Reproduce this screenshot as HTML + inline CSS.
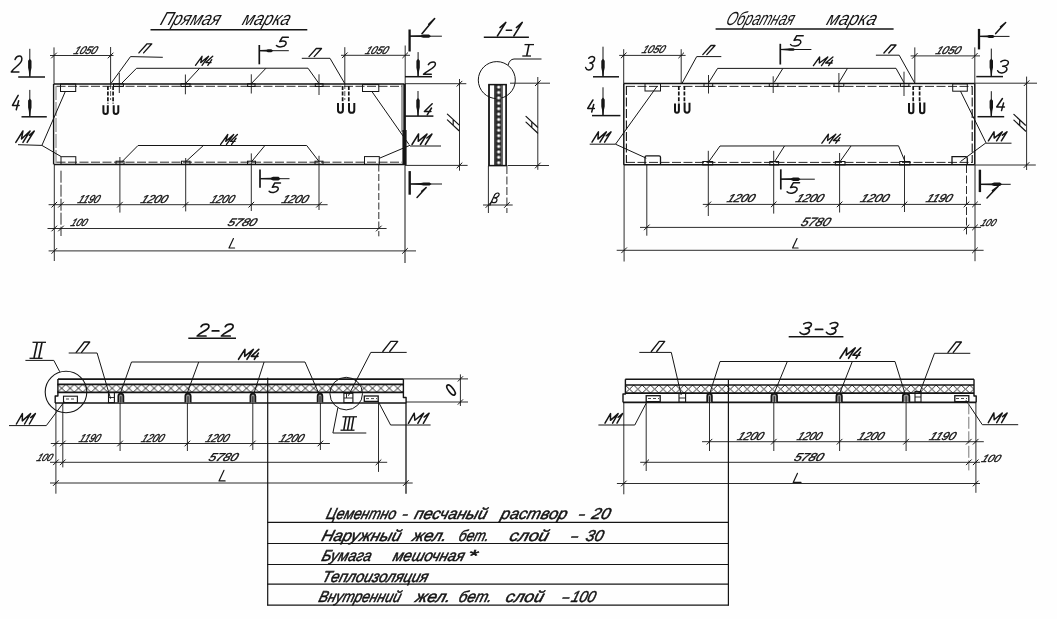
<!DOCTYPE html>
<html><head><meta charset="utf-8"><title>drawing</title>
<style>
html,body{margin:0;padding:0;background:#fefefe;}
svg{display:block;font-family:"Liberation Sans",sans-serif;font-style:italic;opacity:0.999;will-change:transform;}
</style></head><body>
<svg width="1057" height="619" viewBox="0 0 1057 619">
<defs>
<pattern id="xh" x="57.5" y="384.3" width="8.4" height="8" patternUnits="userSpaceOnUse">
<path d="M0,0 L8.4,8 M8.4,0 L0,8" stroke="#151515" stroke-width="0.9" fill="none"/>
</pattern>
<pattern id="xh2" x="625.3" y="385" width="8.4" height="8.2" patternUnits="userSpaceOnUse">
<path d="M0,0 L8.4,8.2 M8.4,0 L0,8.2" stroke="#151515" stroke-width="0.9" fill="none"/>
</pattern>
<pattern id="dots" x="495.5" y="84.4" width="6" height="5.4" patternUnits="userSpaceOnUse">
<rect x="0" y="0" width="6" height="5.4" fill="#2a2a2a"/>
<circle cx="3.2" cy="2.7" r="1.55" fill="#fff"/>
</pattern>
</defs>
<rect x="0" y="0" width="1057" height="619" fill="#fefefe"/>
<text transform="translate(159.3,24.9) skewX(-20)" font-size="19" textLength="59.37" lengthAdjust="spacingAndGlyphs" font-weight="normal" stroke="#151515" stroke-width="0" fill="#151515">Прямая</text>
<text transform="translate(241.3,24.9) skewX(-20)" font-size="19" textLength="47.37" lengthAdjust="spacingAndGlyphs" font-weight="normal" stroke="#151515" stroke-width="0" fill="#151515">марка</text>
<line x1="150.5" y1="29.8" x2="307.3" y2="29.8" stroke="#151515" stroke-width="1.5"/>
<line x1="54" y1="84" x2="404.5" y2="84" stroke="#151515" stroke-width="1.5"/>
<line x1="56.5" y1="86.3" x2="402" y2="86.3" stroke="#151515" stroke-width="0.9" stroke-dasharray="9 2.5"/>
<line x1="54" y1="164.4" x2="404.5" y2="164.4" stroke="#151515" stroke-width="1.5"/>
<line x1="56.5" y1="162.2" x2="402" y2="162.2" stroke="#151515" stroke-width="0.9" stroke-dasharray="9 2.5"/>
<line x1="53.6" y1="84" x2="53.6" y2="164.4" stroke="#151515" stroke-width="1.4"/>
<line x1="56" y1="86" x2="56" y2="163" stroke="#555" stroke-width="0.8" stroke-dasharray="14 2"/>
<line x1="402" y1="85" x2="402" y2="132" stroke="#151515" stroke-width="0.8"/>
<line x1="404.6" y1="84" x2="404.6" y2="165" stroke="#151515" stroke-width="2.6"/>
<line x1="404.5" y1="130" x2="404.5" y2="165" stroke="#151515" stroke-width="4.2"/>
<line x1="54" y1="47.4" x2="54" y2="84" stroke="#151515" stroke-width="0.9"/>
<line x1="110.6" y1="47" x2="110.6" y2="84" stroke="#151515" stroke-width="0.9"/>
<line x1="110.6" y1="84" x2="110.6" y2="100" stroke="#151515" stroke-width="0.7" stroke-dasharray="5 2"/>
<line x1="344.8" y1="47.2" x2="344.8" y2="84" stroke="#151515" stroke-width="0.9"/>
<line x1="344.8" y1="84" x2="344.8" y2="100" stroke="#151515" stroke-width="0.7" stroke-dasharray="5 2"/>
<line x1="405.2" y1="45.5" x2="405.2" y2="84" stroke="#151515" stroke-width="0.9"/>
<line x1="50" y1="55.5" x2="113.5" y2="55.5" stroke="#151515" stroke-width="0.9"/>
<line x1="51.2" y1="58.3" x2="56.8" y2="52.7" stroke="#151515" stroke-width="1.0"/>
<line x1="107.8" y1="58.3" x2="113.39999999999999" y2="52.7" stroke="#151515" stroke-width="1.0"/>
<line x1="341" y1="55.3" x2="410" y2="55.3" stroke="#151515" stroke-width="0.9"/>
<line x1="342.0" y1="58.099999999999994" x2="347.6" y2="52.5" stroke="#151515" stroke-width="1.0"/>
<line x1="402.4" y1="58.099999999999994" x2="408.0" y2="52.5" stroke="#151515" stroke-width="1.0"/>
<text transform="translate(73,54) skewX(-24)" font-size="11" textLength="22.77" lengthAdjust="spacingAndGlyphs" font-weight="normal" stroke="#151515" stroke-width="0.4" fill="#151515">1050</text>
<text transform="translate(364.5,54) skewX(-24)" font-size="11" textLength="22.27" lengthAdjust="spacingAndGlyphs" font-weight="normal" stroke="#151515" stroke-width="0.4" fill="#151515">1050</text>
<line x1="107.9" y1="86" x2="107.9" y2="103.5" stroke="#151515" stroke-width="1.7" stroke-dasharray="4 1.6"/>
<line x1="113.1" y1="86" x2="113.1" y2="103.5" stroke="#151515" stroke-width="1.7" stroke-dasharray="4 1.6"/>
<path d="M103.4,105.2 V111.80000000000001 a2.1999999999999957,2.1999999999999957 0 0 0 4.3999999999999915,0 V105.2" fill="none" stroke="#151515" stroke-width="2.0"/>
<path d="M113.7,105.2 V111.7 a2.299999999999997,2.299999999999997 0 0 0 4.599999999999994,0 V105.2" fill="none" stroke="#151515" stroke-width="2.0"/>
<line x1="342.6" y1="86" x2="342.6" y2="102" stroke="#151515" stroke-width="1.7" stroke-dasharray="4 1.6"/>
<line x1="348.8" y1="86" x2="348.8" y2="102" stroke="#151515" stroke-width="1.7" stroke-dasharray="4 1.6"/>
<path d="M338,103 V110.35000000000001 a2.4499999999999886,2.4499999999999886 0 0 0 4.899999999999977,0 V103" fill="none" stroke="#151515" stroke-width="2.0"/>
<path d="M349,103 V110.14999999999999 a2.6500000000000057,2.6500000000000057 0 0 0 5.300000000000011,0 V103" fill="none" stroke="#151515" stroke-width="2.0"/>
<rect x="60.5" y="84" width="15.2" height="7.5" fill="none" stroke="#151515" stroke-width="1.0"/>
<rect x="61" y="156.7" width="14.8" height="7.7" fill="none" stroke="#151515" stroke-width="1.0"/>
<rect x="362.5" y="84.6" width="16.3" height="6.9" fill="none" stroke="#151515" stroke-width="1.0"/>
<rect x="364.5" y="156.6" width="14.8" height="7.8" fill="none" stroke="#151515" stroke-width="1.0"/>
<g transform="translate(15.8,142.4)" fill="none" stroke="#151515" stroke-width="1.5" stroke-linecap="round" stroke-linejoin="round"><path d="M0,0 L0,1 L0.5,0.3 L1,1 L1,0" transform="matrix(7.146,0,7.124,-11.400,0.000,0)" vector-effect="non-scaling-stroke"/><path d="M0.0,0.62 L0.55,1 L0.55,0" transform="matrix(3.930,0,7.124,-11.400,9.146,0)" vector-effect="non-scaling-stroke"/></g>
<line x1="18" y1="144.7" x2="41.9" y2="145.4" stroke="#151515" stroke-width="1.0"/>
<line x1="41.9" y1="145.4" x2="61" y2="156.5" stroke="#151515" stroke-width="1.0"/>
<line x1="41.9" y1="145.4" x2="65.3" y2="91.5" stroke="#151515" stroke-width="1.0"/>
<g transform="translate(412,144.5)" fill="none" stroke="#151515" stroke-width="1.5" stroke-linecap="round" stroke-linejoin="round"><path d="M0,0 L0,1 L0.5,0.3 L1,1 L1,0" transform="matrix(8.437,0,6.561,-10.500,0.000,0)" vector-effect="non-scaling-stroke"/><path d="M0.0,0.62 L0.55,1 L0.55,0" transform="matrix(4.640,0,6.561,-10.500,10.799,0)" vector-effect="non-scaling-stroke"/></g>
<line x1="410" y1="146" x2="441" y2="146" stroke="#151515" stroke-width="1.0"/>
<line x1="410" y1="145.3" x2="379.3" y2="158.3" stroke="#151515" stroke-width="1.0"/>
<line x1="371.9" y1="91.5" x2="409" y2="144.5" stroke="#151515" stroke-width="1.0"/>
<rect x="113.5" y="83.7" width="9.9" height="2.8" fill="none" stroke="#151515" stroke-width="1.0"/>
<rect x="181" y="83.7" width="9" height="2.8" fill="none" stroke="#151515" stroke-width="1.0"/>
<rect x="247.6" y="83.7" width="7.4" height="2.8" fill="none" stroke="#151515" stroke-width="1.0"/>
<rect x="315.3" y="83.7" width="7.7" height="2.8" fill="none" stroke="#151515" stroke-width="1.0"/>
<line x1="119.3" y1="73" x2="119.3" y2="93" stroke="#151515" stroke-width="0.9"/>
<line x1="185.4" y1="74.5" x2="185.4" y2="94.3" stroke="#151515" stroke-width="0.9"/>
<line x1="251.3" y1="74.3" x2="251.3" y2="93.5" stroke="#151515" stroke-width="0.9"/>
<line x1="319" y1="74.3" x2="319" y2="95" stroke="#151515" stroke-width="0.9"/>
<polyline points="121.5,83.5 136.5,68.3 308,68.2 319,83.6" fill="none" stroke="#151515" stroke-width="1.0" stroke-linejoin="round"/>
<line x1="185.4" y1="83.6" x2="199.7" y2="68.2" stroke="#151515" stroke-width="1.0"/>
<line x1="251.3" y1="83.6" x2="266" y2="68.2" stroke="#151515" stroke-width="1.0"/>
<g transform="translate(195.5,65.3)" fill="none" stroke="#151515" stroke-width="1.35" stroke-linecap="round" stroke-linejoin="round"><path d="M0,0 L0,1 L0.5,0.3 L1,1 L1,0" transform="matrix(6.520,0,6.539,-9.000,0.000,0)" vector-effect="non-scaling-stroke"/><path d="M0.45,1 L0,0.3 L1,0.3 M0.75,0.62 L0.75,0" transform="matrix(5.216,0,6.539,-9.000,8.345,0)" vector-effect="non-scaling-stroke"/></g>
<rect x="116" y="161.2" width="8" height="3.2" fill="none" stroke="#151515" stroke-width="1.0"/>
<rect x="181.5" y="161.2" width="8.5" height="3.2" fill="none" stroke="#151515" stroke-width="1.0"/>
<rect x="247.5" y="161.2" width="8.0" height="3.2" fill="none" stroke="#151515" stroke-width="1.0"/>
<rect x="315" y="161.2" width="8" height="3.2" fill="none" stroke="#151515" stroke-width="1.0"/>
<line x1="119.9" y1="157" x2="119.9" y2="212.6" stroke="#151515" stroke-width="0.9"/>
<line x1="185.7" y1="158" x2="185.7" y2="211.4" stroke="#151515" stroke-width="0.9"/>
<line x1="251.3" y1="153.4" x2="251.3" y2="211" stroke="#151515" stroke-width="0.9"/>
<line x1="319" y1="155.8" x2="319" y2="210" stroke="#151515" stroke-width="0.9"/>
<polyline points="122,161.7 138,145.5 306.7,145.5 319,161.5" fill="none" stroke="#151515" stroke-width="1.0" stroke-linejoin="round"/>
<line x1="185.4" y1="162" x2="203.4" y2="145.5" stroke="#151515" stroke-width="1.0"/>
<line x1="251.3" y1="162" x2="264.9" y2="145.5" stroke="#151515" stroke-width="1.0"/>
<g transform="translate(220.6,144.4)" fill="none" stroke="#151515" stroke-width="1.35" stroke-linecap="round" stroke-linejoin="round"><path d="M0,0 L0,1 L0.5,0.3 L1,1 L1,0" transform="matrix(5.869,0,7.193,-9.900,0.000,0)" vector-effect="non-scaling-stroke"/><path d="M0.45,1 L0,0.3 L1,0.3 M0.75,0.62 L0.75,0" transform="matrix(4.695,0,7.193,-9.900,7.512,0)" vector-effect="non-scaling-stroke"/></g>
<g transform="translate(138.9,52.9)" fill="none" stroke="#151515" stroke-width="1.35" stroke-linecap="round" stroke-linejoin="round"><path d="M0,0 L0,1 L1,1 L1,0" transform="matrix(4.706,0,8.194,-9.100,0.000,0)" vector-effect="non-scaling-stroke"/></g>
<polyline points="111.1,83.3 130.5,56.6 162.8,57.3" fill="none" stroke="#151515" stroke-width="1.0" stroke-linejoin="round"/>
<g transform="translate(309,56.6)" fill="none" stroke="#151515" stroke-width="1.35" stroke-linecap="round" stroke-linejoin="round"><path d="M0,0 L0,1 L1,1 L1,0" transform="matrix(5.207,0,7.293,-8.100,0.000,0)" vector-effect="non-scaling-stroke"/></g>
<polyline points="301.8,58.3 330,58.3 344.8,83.6" fill="none" stroke="#151515" stroke-width="1.0" stroke-linejoin="round"/>
<line x1="259.3" y1="45" x2="259.3" y2="64.3" stroke="#151515" stroke-width="1.7"/>
<line x1="259.8" y1="50.7" x2="288.8" y2="50.7" stroke="#151515" stroke-width="1.0"/>
<polygon points="259.8,50.1 266.40000000000003,49.800000000000004 267.96000000000004,49.2 271.3,49.2 273.3,50.7 271.3,52.2 267.96000000000004,52.2 266.40000000000003,51.6 259.8,51.300000000000004" fill="#151515"/>
<g transform="translate(275.9,47)" fill="none" stroke="#151515" stroke-width="1.5" stroke-linecap="round" stroke-linejoin="round"><path d="M0.95,1 L0.3,1 L0.2,0.55 C0.5,0.68 1.0,0.6 0.95,0.28 C0.9,-0.02 0.3,-0.08 0,0.15" transform="matrix(9.369,0,3.531,-9.700,0.000,0)" vector-effect="non-scaling-stroke"/></g>
<line x1="260" y1="169.4" x2="260" y2="187.8" stroke="#151515" stroke-width="1.7"/>
<line x1="260.5" y1="178.7" x2="289.5" y2="178.7" stroke="#151515" stroke-width="1.0"/>
<polygon points="260.5,178.1 270.675,177.79999999999998 273.08,176.79999999999998 278.5,176.79999999999998 280.5,178.7 278.5,180.6 273.08,180.6 270.675,179.6 260.5,179.29999999999998" fill="#151515"/>
<g transform="translate(268.6,192.7)" fill="none" stroke="#151515" stroke-width="1.5" stroke-linecap="round" stroke-linejoin="round"><path d="M0.95,1 L0.3,1 L0.2,0.55 C0.5,0.68 1.0,0.6 0.95,0.28 C0.9,-0.02 0.3,-0.08 0,0.15" transform="matrix(8.733,0,3.567,-9.800,0.000,0)" vector-effect="non-scaling-stroke"/></g>
<line x1="54.3" y1="164.4" x2="54.3" y2="261" stroke="#151515" stroke-width="0.9"/>
<line x1="61" y1="170.7" x2="61" y2="236" stroke="#151515" stroke-width="0.9" stroke-dasharray="12 2"/>
<line x1="378.8" y1="164.5" x2="378.8" y2="236.3" stroke="#151515" stroke-width="0.9" stroke-dasharray="7 2.5"/>
<line x1="405" y1="164.4" x2="405" y2="263" stroke="#151515" stroke-width="1.0"/>
<line x1="48.6" y1="204.7" x2="327.6" y2="204.7" stroke="#151515" stroke-width="0.9"/>
<line x1="51.5" y1="207.5" x2="57.099999999999994" y2="201.89999999999998" stroke="#151515" stroke-width="1.0"/>
<line x1="58.2" y1="207.5" x2="63.8" y2="201.89999999999998" stroke="#151515" stroke-width="1.0"/>
<line x1="117.10000000000001" y1="207.5" x2="122.7" y2="201.89999999999998" stroke="#151515" stroke-width="1.0"/>
<line x1="182.89999999999998" y1="207.5" x2="188.5" y2="201.89999999999998" stroke="#151515" stroke-width="1.0"/>
<line x1="248.5" y1="207.5" x2="254.10000000000002" y2="201.89999999999998" stroke="#151515" stroke-width="1.0"/>
<line x1="316.2" y1="207.5" x2="321.8" y2="201.89999999999998" stroke="#151515" stroke-width="1.0"/>
<text transform="translate(77,202.8) skewX(-24)" font-size="11.5" textLength="21.22" lengthAdjust="spacingAndGlyphs" font-weight="normal" stroke="#151515" stroke-width="0.4" fill="#151515">1190</text>
<text transform="translate(140,202.8) skewX(-24)" font-size="11.5" textLength="26.12" lengthAdjust="spacingAndGlyphs" font-weight="normal" stroke="#151515" stroke-width="0.4" fill="#151515">1200</text>
<text transform="translate(209.5,202.8) skewX(-24)" font-size="11.5" textLength="23.22" lengthAdjust="spacingAndGlyphs" font-weight="normal" stroke="#151515" stroke-width="0.4" fill="#151515">1200</text>
<text transform="translate(280.9,202.8) skewX(-24)" font-size="11.5" textLength="25.82" lengthAdjust="spacingAndGlyphs" font-weight="normal" stroke="#151515" stroke-width="0.4" fill="#151515">1200</text>
<line x1="47.5" y1="228.5" x2="386.6" y2="228.5" stroke="#151515" stroke-width="0.9"/>
<line x1="51.5" y1="231.3" x2="57.099999999999994" y2="225.7" stroke="#151515" stroke-width="1.0"/>
<line x1="58.2" y1="231.3" x2="63.8" y2="225.7" stroke="#151515" stroke-width="1.0"/>
<line x1="376.0" y1="231.3" x2="381.6" y2="225.7" stroke="#151515" stroke-width="1.0"/>
<text transform="translate(70,225.6) skewX(-24)" font-size="10.5" textLength="15.83" lengthAdjust="spacingAndGlyphs" font-weight="normal" stroke="#151515" stroke-width="0.4" fill="#151515">100</text>
<text transform="translate(226.7,226.4) skewX(-24)" font-size="11" textLength="28.37" lengthAdjust="spacingAndGlyphs" font-weight="normal" stroke="#151515" stroke-width="0.4" fill="#151515">5780</text>
<line x1="48.6" y1="250.9" x2="416" y2="250.9" stroke="#151515" stroke-width="0.9"/>
<line x1="51.5" y1="253.70000000000002" x2="57.099999999999994" y2="248.1" stroke="#151515" stroke-width="1.0"/>
<line x1="402.2" y1="253.70000000000002" x2="407.8" y2="248.1" stroke="#151515" stroke-width="1.0"/>
<g transform="translate(229,248)" fill="none" stroke="#151515" stroke-width="1.2" stroke-linecap="round" stroke-linejoin="round"><path d="M0,1 L0,0 L1,0" transform="matrix(5.570,0,4.430,-9.500,0.000,0)" vector-effect="non-scaling-stroke"/></g>
<g transform="translate(11.3,72)" fill="none" stroke="#151515" stroke-width="1.5" stroke-linecap="round" stroke-linejoin="round"><path d="M0.05,0.78 C0.1,1.05 0.95,1.1 0.95,0.72 C0.95,0.45 0.2,0.3 0,0 L1,0" transform="matrix(7.613,0,4.287,-16.000,0.000,0)" vector-effect="non-scaling-stroke"/></g>
<line x1="29.8" y1="48.8" x2="29.8" y2="76.8" stroke="#151515" stroke-width="1.0"/>
<polygon points="29.8,58.8 28.1,60.8 28.1,67.725 28.8,71.02499999999999 29.3,76.8 30.3,76.8 30.8,71.02499999999999 31.5,67.725 31.5,60.8" fill="#151515"/>
<line x1="18.2" y1="77" x2="45" y2="77" stroke="#151515" stroke-width="1.5"/>
<g transform="translate(11.3,109.8)" fill="none" stroke="#151515" stroke-width="1.5" stroke-linecap="round" stroke-linejoin="round"><path d="M0.45,1 L0,0.3 L1,0.3 M0.75,0.62 L0.75,0" transform="matrix(6.615,0,3.885,-14.500,0.000,0)" vector-effect="non-scaling-stroke"/></g>
<line x1="29.8" y1="89.9" x2="29.8" y2="116.6" stroke="#151515" stroke-width="1.0"/>
<polygon points="29.8,98.6 28.1,100.6 28.1,107.52499999999999 28.8,110.82499999999999 29.3,116.6 30.3,116.6 30.8,110.82499999999999 31.5,107.52499999999999 31.5,100.6" fill="#151515"/>
<line x1="21.5" y1="116.8" x2="46.8" y2="116.8" stroke="#151515" stroke-width="1.5"/>
<line x1="409.6" y1="29.5" x2="409.6" y2="51.5" stroke="#151515" stroke-width="2.3"/>
<line x1="410" y1="36.2" x2="441.9" y2="36.2" stroke="#151515" stroke-width="1.0"/>
<polygon points="410,35.6 420.725,35.300000000000004 423.26,34.6 429.0,34.6 431.0,36.2 429.0,37.800000000000004 423.26,37.800000000000004 420.725,37.1 410,36.800000000000004" fill="#151515"/>
<g transform="translate(420.9,33.7)" fill="none" stroke="#151515" stroke-width="1.6" stroke-linecap="round" stroke-linejoin="round"><path d="M0.0,0.62 L0.55,1 L0.55,0" transform="matrix(1.930,0,12.670,-15.100,0.000,0)" vector-effect="non-scaling-stroke"/></g>
<g transform="translate(423.5,74.3)" fill="none" stroke="#151515" stroke-width="1.5" stroke-linecap="round" stroke-linejoin="round"><path d="M0.05,0.78 C0.1,1.05 0.95,1.1 0.95,0.72 C0.95,0.45 0.2,0.3 0,0 L1,0" transform="matrix(7.764,0,5.736,-12.300,0.000,0)" vector-effect="non-scaling-stroke"/></g>
<line x1="418.1" y1="52.1" x2="418.1" y2="76.7" stroke="#151515" stroke-width="1.0"/>
<polygon points="418.1,58.7 416.40000000000003,60.7 416.40000000000003,67.625 417.1,70.925 417.6,76.7 418.6,76.7 419.1,70.925 419.8,67.625 419.8,60.7" fill="#151515"/>
<line x1="405" y1="76.7" x2="432" y2="76.7" stroke="#151515" stroke-width="1.5"/>
<g transform="translate(422.3,114.9)" fill="none" stroke="#151515" stroke-width="1.5" stroke-linecap="round" stroke-linejoin="round"><path d="M0.45,1 L0,0.3 L1,0.3 M0.75,0.62 L0.75,0" transform="matrix(6.564,0,6.936,-11.100,0.000,0)" vector-effect="non-scaling-stroke"/></g>
<line x1="418" y1="91" x2="418" y2="116.1" stroke="#151515" stroke-width="1.0"/>
<polygon points="418,98.1 416.3,100.1 416.3,107.02499999999999 417.0,110.32499999999999 417.5,116.1 418.5,116.1 419.0,110.32499999999999 419.7,107.02499999999999 419.7,100.1" fill="#151515"/>
<line x1="405" y1="116.1" x2="433.4" y2="116.1" stroke="#151515" stroke-width="1.5"/>
<line x1="409.7" y1="171.1" x2="409.7" y2="194.7" stroke="#151515" stroke-width="2.4"/>
<line x1="410" y1="184" x2="442" y2="184" stroke="#151515" stroke-width="1.0"/>
<polygon points="410,183.4 421.0,183.1 423.6,182.4 429.5,182.4 431.5,184 429.5,185.6 423.6,185.6 421.0,184.9 410,184.6" fill="#151515"/>
<g transform="translate(416,197.4)" fill="none" stroke="#151515" stroke-width="1.5" stroke-linecap="round" stroke-linejoin="round"><path d="M0.0,0.62 L0.55,1 L0.55,0" transform="matrix(1.861,0,9.139,-9.800,0.000,0)" vector-effect="non-scaling-stroke"/></g>
<line x1="405" y1="83.7" x2="466.3" y2="83.7" stroke="#151515" stroke-width="0.9"/>
<line x1="405" y1="165.4" x2="467.6" y2="165.4" stroke="#151515" stroke-width="0.9"/>
<line x1="459.5" y1="79" x2="459.5" y2="170.7" stroke="#151515" stroke-width="0.9"/>
<line x1="456.7" y1="86.5" x2="462.3" y2="80.9" stroke="#151515" stroke-width="1.0"/>
<line x1="456.7" y1="168.20000000000002" x2="462.3" y2="162.6" stroke="#151515" stroke-width="1.0"/>
<g transform="translate(459,130.7) rotate(-90)" fill="none" stroke="#151515" stroke-width="1.2" stroke-linecap="round"><path d="M0,0 L0,1 M1,0 L1,1 M0,0.5 L1,0.5" transform="matrix(5.8,0,10.817,-11.6,0,0)" vector-effect="non-scaling-stroke"/></g>
<g transform="translate(494.7,36)" fill="none" stroke="#151515" stroke-width="1.5" stroke-linecap="round" stroke-linejoin="round"><path d="M0.0,0.62 L0.55,1 L0.55,0" transform="matrix(4.882,0,8.498,-13.600,0.000,0)" vector-effect="non-scaling-stroke"/><path d="M0,0.42 L1,0.42" transform="matrix(5.325,0,8.498,-13.600,7.988,0)" vector-effect="non-scaling-stroke"/><path d="M0.0,0.62 L0.55,1 L0.55,0" transform="matrix(4.882,0,8.498,-13.600,16.420,0)" vector-effect="non-scaling-stroke"/></g>
<line x1="483.8" y1="37.2" x2="528.9" y2="37.2" stroke="#151515" stroke-width="1.5"/>
<line x1="528.9" y1="44.9" x2="526.7" y2="55.8" stroke="#151515" stroke-width="1.6"/>
<line x1="524.5" y1="44.6" x2="534" y2="44.6" stroke="#151515" stroke-width="1.3"/>
<line x1="522.3" y1="56" x2="531" y2="56" stroke="#151515" stroke-width="1.3"/>
<path d="M508.1,65.2 Q509.5,59.3 514,59 H541.5" fill="none" stroke="#151515" stroke-width="1.0"/>
<circle cx="496.8" cy="80.1" r="18.5" fill="none" stroke="#151515" stroke-width="1"/>
<rect x="495.5" y="84.4" width="6" height="81.3" fill="url(#dots)" stroke="none"/>
<line x1="489" y1="84.4" x2="489" y2="165.7" stroke="#151515" stroke-width="1.8"/>
<line x1="495" y1="84.4" x2="495" y2="165.7" stroke="#151515" stroke-width="1.5"/>
<line x1="502.1" y1="84.4" x2="502.1" y2="165.7" stroke="#151515" stroke-width="1.1"/>
<line x1="506.1" y1="84.4" x2="506.1" y2="165.7" stroke="#151515" stroke-width="1.7"/>
<line x1="488.2" y1="84.6" x2="506.9" y2="84.6" stroke="#151515" stroke-width="1.5"/>
<line x1="488.2" y1="165.6" x2="506.9" y2="165.6" stroke="#151515" stroke-width="1.5"/>
<line x1="510" y1="83.2" x2="550" y2="83.2" stroke="#151515" stroke-width="0.9"/>
<line x1="507.5" y1="165.5" x2="549" y2="165.5" stroke="#151515" stroke-width="0.9"/>
<line x1="537.8" y1="77" x2="537.8" y2="169.8" stroke="#151515" stroke-width="0.9"/>
<line x1="535.0" y1="86.0" x2="540.5999999999999" y2="80.4" stroke="#151515" stroke-width="1.0"/>
<line x1="535.0" y1="168.3" x2="540.5999999999999" y2="162.7" stroke="#151515" stroke-width="1.0"/>
<g transform="translate(537.6,133) rotate(-90)" fill="none" stroke="#151515" stroke-width="1.2" stroke-linecap="round"><path d="M0,0 L0,1 M1,0 L1,1 M0,0.5 L1,0.5" transform="matrix(5.8,0,10.817,-11.6,0,0)" vector-effect="non-scaling-stroke"/></g>
<line x1="488.4" y1="166" x2="488.4" y2="213" stroke="#151515" stroke-width="0.9"/>
<line x1="506.9" y1="166" x2="506.9" y2="213" stroke="#151515" stroke-width="0.9" stroke-dasharray="8 2.5"/>
<line x1="483" y1="205" x2="512.7" y2="205" stroke="#151515" stroke-width="0.9"/>
<line x1="485.59999999999997" y1="207.8" x2="491.2" y2="202.2" stroke="#151515" stroke-width="1.0"/>
<line x1="504.09999999999997" y1="207.8" x2="509.7" y2="202.2" stroke="#151515" stroke-width="1.0"/>
<g transform="translate(491,202.7)" fill="none" stroke="#151515" stroke-width="1.2" stroke-linecap="round" stroke-linejoin="round"><path d="M0,-0.25 L0,0.8 C0.1,1.1 0.9,1.05 0.8,0.7 C0.75,0.5 0.3,0.5 0.2,0.5 C1.0,0.5 1.1,0.0 0.5,0 C0.3,0 0.1,0.05 0,0.2" transform="matrix(5.477,0,4.523,-9.700,0.000,0)" vector-effect="non-scaling-stroke"/></g>
<text transform="translate(725,25.2) skewX(-20)" font-size="19" textLength="67.27" lengthAdjust="spacingAndGlyphs" font-weight="normal" stroke="#151515" stroke-width="0" fill="#151515">Обратная</text>
<text transform="translate(825.5,25.2) skewX(-20)" font-size="19" textLength="49.37" lengthAdjust="spacingAndGlyphs" font-weight="normal" stroke="#151515" stroke-width="0" fill="#151515">марка</text>
<line x1="715.6" y1="28.9" x2="893.6" y2="28.9" stroke="#151515" stroke-width="1.5"/>
<line x1="623.8" y1="83.5" x2="974.8" y2="83.5" stroke="#151515" stroke-width="1.5"/>
<line x1="626" y1="86.4" x2="972" y2="86.4" stroke="#151515" stroke-width="0.9" stroke-dasharray="9 2.5"/>
<line x1="623.8" y1="164.7" x2="974.8" y2="164.7" stroke="#151515" stroke-width="1.5"/>
<line x1="626" y1="162.4" x2="972" y2="162.4" stroke="#151515" stroke-width="0.9" stroke-dasharray="9 2.5"/>
<line x1="623.8" y1="83.5" x2="623.8" y2="164.7" stroke="#151515" stroke-width="1.5"/>
<line x1="626.4" y1="86" x2="626.4" y2="163" stroke="#151515" stroke-width="1.1" stroke-dasharray="9 2.5"/>
<line x1="974.8" y1="83.5" x2="974.8" y2="164.7" stroke="#151515" stroke-width="1.5"/>
<line x1="972.2" y1="86" x2="972.2" y2="163" stroke="#151515" stroke-width="1.1" stroke-dasharray="9 2.5"/>
<line x1="623.7" y1="49.2" x2="623.7" y2="83.6" stroke="#151515" stroke-width="0.9"/>
<line x1="681.2" y1="49.2" x2="681.2" y2="83.6" stroke="#151515" stroke-width="0.9"/>
<line x1="619.2" y1="55.4" x2="685.6" y2="55.4" stroke="#151515" stroke-width="0.9"/>
<line x1="620.9000000000001" y1="58.199999999999996" x2="626.5" y2="52.6" stroke="#151515" stroke-width="1.0"/>
<line x1="678.4000000000001" y1="58.199999999999996" x2="684.0" y2="52.6" stroke="#151515" stroke-width="1.0"/>
<text transform="translate(641.3,52.9) skewX(-24)" font-size="11" textLength="22.17" lengthAdjust="spacingAndGlyphs" font-weight="normal" stroke="#151515" stroke-width="0.4" fill="#151515">1050</text>
<line x1="914.8" y1="47.4" x2="914.8" y2="83.2" stroke="#151515" stroke-width="0.9"/>
<line x1="974.8" y1="47.4" x2="974.8" y2="83.2" stroke="#151515" stroke-width="0.9"/>
<line x1="910.6" y1="55.9" x2="980" y2="55.9" stroke="#151515" stroke-width="0.9"/>
<line x1="912.0" y1="58.699999999999996" x2="917.5999999999999" y2="53.1" stroke="#151515" stroke-width="1.0"/>
<line x1="972.0" y1="58.699999999999996" x2="977.5999999999999" y2="53.1" stroke="#151515" stroke-width="1.0"/>
<text transform="translate(935,53.5) skewX(-24)" font-size="11" textLength="24.27" lengthAdjust="spacingAndGlyphs" font-weight="normal" stroke="#151515" stroke-width="0.4" fill="#151515">1050</text>
<rect x="645" y="83.6" width="15.5" height="7.4" fill="none" stroke="#151515" stroke-width="1.0"/>
<path d="M645,164.4 V157.3 Q645,155.8 646.5,155.8 H659 Q660.5,155.8 660.5,157.3 V164.4" fill="none" stroke="#151515" stroke-width="1.3"/>
<rect x="952.7" y="83.9" width="14.6" height="7.3" fill="none" stroke="#151515" stroke-width="1.0"/>
<path d="M952,165 V156.6 H965.5 Q967.3,156.6 967.3,158.4 V165" fill="none" stroke="#151515" stroke-width="1.3"/>
<line x1="678.8" y1="86" x2="678.8" y2="103" stroke="#151515" stroke-width="1.7" stroke-dasharray="4 1.6"/>
<line x1="684.4" y1="86" x2="684.4" y2="103" stroke="#151515" stroke-width="1.7" stroke-dasharray="4 1.6"/>
<path d="M675,103.4 V110.75000000000001 a1.9499999999999886,1.9499999999999886 0 0 0 3.8999999999999773,0 V103.4" fill="none" stroke="#151515" stroke-width="2.0"/>
<path d="M684.6,102.8 V110.25000000000001 a2.4499999999999886,2.4499999999999886 0 0 0 4.899999999999977,0 V102.8" fill="none" stroke="#151515" stroke-width="2.0"/>
<line x1="913.2" y1="86" x2="913.2" y2="103" stroke="#151515" stroke-width="1.7" stroke-dasharray="4 1.6"/>
<line x1="919.6" y1="86" x2="919.6" y2="103" stroke="#151515" stroke-width="1.7" stroke-dasharray="4 1.6"/>
<path d="M909,103 V111.00000000000001 a2.1999999999999886,2.1999999999999886 0 0 0 4.399999999999977,0 V103" fill="none" stroke="#151515" stroke-width="2.0"/>
<path d="M920,102.4 V111.00000000000001 a2.1999999999999886,2.1999999999999886 0 0 0 4.399999999999977,0 V102.4" fill="none" stroke="#151515" stroke-width="2.0"/>
<g transform="translate(702.8,54.6)" fill="none" stroke="#151515" stroke-width="1.35" stroke-linecap="round" stroke-linejoin="round"><path d="M0,0 L0,1 L1,1 L1,0" transform="matrix(4.006,0,8.194,-9.100,0.000,0)" vector-effect="non-scaling-stroke"/></g>
<polyline points="681.9,83.6 696.7,56.6 721.3,56.6" fill="none" stroke="#151515" stroke-width="1.0" stroke-linejoin="round"/>
<g transform="translate(883.9,53)" fill="none" stroke="#151515" stroke-width="1.35" stroke-linecap="round" stroke-linejoin="round"><path d="M0,0 L0,1 L1,1 L1,0" transform="matrix(4.897,0,7.203,-8.000,0.000,0)" vector-effect="non-scaling-stroke"/></g>
<polyline points="875.9,55.2 899.2,55.2 914.8,83.2" fill="none" stroke="#151515" stroke-width="1.0" stroke-linejoin="round"/>
<rect x="704" y="83.5" width="8.7" height="2.9" fill="none" stroke="#151515" stroke-width="1.0"/>
<rect x="769.3" y="83.5" width="8.6" height="2.9" fill="none" stroke="#151515" stroke-width="1.0"/>
<rect x="834" y="83.5" width="9.8" height="2.9" fill="none" stroke="#151515" stroke-width="1.0"/>
<rect x="900.4" y="83.5" width="8.5" height="2.9" fill="none" stroke="#151515" stroke-width="1.0"/>
<line x1="708.5" y1="75" x2="708.5" y2="93.5" stroke="#151515" stroke-width="0.9"/>
<line x1="773.2" y1="76.3" x2="773.2" y2="93" stroke="#151515" stroke-width="0.9"/>
<line x1="838.9" y1="73" x2="838.9" y2="92.4" stroke="#151515" stroke-width="0.9"/>
<line x1="904" y1="71.7" x2="904" y2="96" stroke="#151515" stroke-width="0.9"/>
<polyline points="708.5,83 717.6,68.4 896,68.3 904,82.7" fill="none" stroke="#151515" stroke-width="1.0" stroke-linejoin="round"/>
<line x1="774.2" y1="82.4" x2="782.8" y2="68.5" stroke="#151515" stroke-width="1.0"/>
<line x1="847.4" y1="68.5" x2="838.9" y2="82.7" stroke="#151515" stroke-width="1.0"/>
<g transform="translate(813.4,65.6)" fill="none" stroke="#151515" stroke-width="1.35" stroke-linecap="round" stroke-linejoin="round"><path d="M0,0 L0,1 L0.5,0.3 L1,1 L1,0" transform="matrix(8.102,0,6.248,-8.600,0.000,0)" vector-effect="non-scaling-stroke"/><path d="M0.45,1 L0,0.3 L1,0.3 M0.75,0.62 L0.75,0" transform="matrix(6.481,0,6.248,-8.600,10.370,0)" vector-effect="non-scaling-stroke"/></g>
<line x1="780.3" y1="43.8" x2="780.3" y2="64.5" stroke="#151515" stroke-width="1.7"/>
<line x1="780" y1="49.5" x2="811.4" y2="49.5" stroke="#151515" stroke-width="1.0"/>
<polygon points="780,48.9 787.7,48.6 789.52,48.3 793.5,48.3 795.5,49.5 793.5,50.7 789.52,50.7 787.7,50.4 780,50.1" fill="#151515"/>
<g transform="translate(790,46.2)" fill="none" stroke="#151515" stroke-width="1.5" stroke-linecap="round" stroke-linejoin="round"><path d="M0.95,1 L0.3,1 L0.2,0.55 C0.5,0.68 1.0,0.6 0.95,0.28 C0.9,-0.02 0.3,-0.08 0,0.15" transform="matrix(9.878,0,3.822,-10.500,0.000,0)" vector-effect="non-scaling-stroke"/></g>
<rect x="702.8" y="161.5" width="9.9" height="3.4" fill="none" stroke="#151515" stroke-width="1.0"/>
<rect x="769.8" y="161.5" width="8.8" height="3.4" fill="none" stroke="#151515" stroke-width="1.0"/>
<rect x="835.3" y="161.5" width="9.7" height="3.4" fill="none" stroke="#151515" stroke-width="1.0"/>
<rect x="899.7" y="161.5" width="10.2" height="3.4" fill="none" stroke="#151515" stroke-width="1.0"/>
<line x1="708.3" y1="150.8" x2="708.3" y2="216" stroke="#151515" stroke-width="0.9"/>
<line x1="773.7" y1="150.8" x2="773.7" y2="213.6" stroke="#151515" stroke-width="0.9"/>
<line x1="839.6" y1="153" x2="839.6" y2="212.5" stroke="#151515" stroke-width="0.9"/>
<line x1="904.5" y1="155.4" x2="904.5" y2="212" stroke="#151515" stroke-width="0.9"/>
<polyline points="709,161.4 720,146 898.5,145.8 905,161.5" fill="none" stroke="#151515" stroke-width="1.0" stroke-linejoin="round"/>
<line x1="774.7" y1="161.4" x2="784.5" y2="146" stroke="#151515" stroke-width="1.0"/>
<line x1="851" y1="146" x2="840.1" y2="161.5" stroke="#151515" stroke-width="1.0"/>
<g transform="translate(821.9,143.2)" fill="none" stroke="#151515" stroke-width="1.35" stroke-linecap="round" stroke-linejoin="round"><path d="M0,0 L0,1 L0.5,0.3 L1,1 L1,0" transform="matrix(7.385,0,6.539,-9.000,0.000,0)" vector-effect="non-scaling-stroke"/><path d="M0.45,1 L0,0.3 L1,0.3 M0.75,0.62 L0.75,0" transform="matrix(5.908,0,6.539,-9.000,9.453,0)" vector-effect="non-scaling-stroke"/></g>
<line x1="780.8" y1="169.3" x2="780.8" y2="189.5" stroke="#151515" stroke-width="1.7"/>
<line x1="781" y1="179.2" x2="814.8" y2="179.2" stroke="#151515" stroke-width="1.0"/>
<polygon points="781,178.6 790.9,178.29999999999998 793.24,177.39999999999998 798.5,177.39999999999998 800.5,179.2 798.5,181.0 793.24,181.0 790.9,180.1 781,179.79999999999998" fill="#151515"/>
<g transform="translate(786.5,193.4)" fill="none" stroke="#151515" stroke-width="1.5" stroke-linecap="round" stroke-linejoin="round"><path d="M0.95,1 L0.3,1 L0.2,0.55 C0.5,0.68 1.0,0.6 0.95,0.28 C0.9,-0.02 0.3,-0.08 0,0.15" transform="matrix(9.642,0,3.858,-10.600,0.000,0)" vector-effect="non-scaling-stroke"/></g>
<g transform="translate(592,142.2)" fill="none" stroke="#151515" stroke-width="1.5" stroke-linecap="round" stroke-linejoin="round"><path d="M0,0 L0,1 L0.5,0.3 L1,1 L1,0" transform="matrix(7.958,0,6.436,-10.300,0.000,0)" vector-effect="non-scaling-stroke"/><path d="M0.0,0.62 L0.55,1 L0.55,0" transform="matrix(4.377,0,6.436,-10.300,10.187,0)" vector-effect="non-scaling-stroke"/></g>
<line x1="589.7" y1="144.2" x2="615.5" y2="144.2" stroke="#151515" stroke-width="1.0"/>
<line x1="615.5" y1="144.2" x2="646.3" y2="158.2" stroke="#151515" stroke-width="1.0"/>
<line x1="615.5" y1="144.2" x2="657.3" y2="86" stroke="#151515" stroke-width="1.0"/>
<g transform="translate(988.4,140.8)" fill="none" stroke="#151515" stroke-width="1.5" stroke-linecap="round" stroke-linejoin="round"><path d="M0,0 L0,1 L0.5,0.3 L1,1 L1,0" transform="matrix(8.184,0,5.624,-9.000,0.000,0)" vector-effect="non-scaling-stroke"/><path d="M0.0,0.62 L0.55,1 L0.55,0" transform="matrix(4.501,0,5.624,-9.000,10.475,0)" vector-effect="non-scaling-stroke"/></g>
<line x1="986" y1="143.2" x2="1011.5" y2="143.2" stroke="#151515" stroke-width="1.0"/>
<line x1="986" y1="142.8" x2="960.5" y2="161.5" stroke="#151515" stroke-width="1.0"/>
<line x1="986" y1="142.8" x2="960.5" y2="91.2" stroke="#151515" stroke-width="1.0"/>
<line x1="624.1" y1="164" x2="624.1" y2="261.5" stroke="#151515" stroke-width="0.9"/>
<line x1="646.8" y1="164" x2="646.8" y2="235.7" stroke="#151515" stroke-width="0.9"/>
<line x1="966.5" y1="165" x2="966.5" y2="234.4" stroke="#151515" stroke-width="0.9" stroke-dasharray="8 2.5"/>
<line x1="975" y1="165" x2="975" y2="261.2" stroke="#151515" stroke-width="0.9"/>
<line x1="702.8" y1="204.4" x2="981" y2="204.4" stroke="#151515" stroke-width="0.9"/>
<line x1="705.5" y1="207.20000000000002" x2="711.0999999999999" y2="201.6" stroke="#151515" stroke-width="1.0"/>
<line x1="770.9000000000001" y1="207.20000000000002" x2="776.5" y2="201.6" stroke="#151515" stroke-width="1.0"/>
<line x1="836.8000000000001" y1="207.20000000000002" x2="842.4" y2="201.6" stroke="#151515" stroke-width="1.0"/>
<line x1="901.7" y1="207.20000000000002" x2="907.3" y2="201.6" stroke="#151515" stroke-width="1.0"/>
<line x1="963.7" y1="207.20000000000002" x2="969.3" y2="201.6" stroke="#151515" stroke-width="1.0"/>
<line x1="972.2" y1="207.20000000000002" x2="977.8" y2="201.6" stroke="#151515" stroke-width="1.0"/>
<text transform="translate(726.2,201.5) skewX(-24)" font-size="11.5" textLength="27.02" lengthAdjust="spacingAndGlyphs" font-weight="normal" stroke="#151515" stroke-width="0.4" fill="#151515">1200</text>
<text transform="translate(795,201.5) skewX(-24)" font-size="11.5" textLength="27.12" lengthAdjust="spacingAndGlyphs" font-weight="normal" stroke="#151515" stroke-width="0.4" fill="#151515">1200</text>
<text transform="translate(859.6,201.6) skewX(-24)" font-size="11.5" textLength="27.82" lengthAdjust="spacingAndGlyphs" font-weight="normal" stroke="#151515" stroke-width="0.4" fill="#151515">1200</text>
<text transform="translate(925.2,202) skewX(-24)" font-size="11.5" textLength="25.52" lengthAdjust="spacingAndGlyphs" font-weight="normal" stroke="#151515" stroke-width="0.4" fill="#151515">1190</text>
<line x1="640" y1="227.4" x2="981" y2="227.4" stroke="#151515" stroke-width="0.9"/>
<line x1="644.0" y1="230.20000000000002" x2="649.5999999999999" y2="224.6" stroke="#151515" stroke-width="1.0"/>
<line x1="963.7" y1="230.20000000000002" x2="969.3" y2="224.6" stroke="#151515" stroke-width="1.0"/>
<line x1="972.2" y1="230.20000000000002" x2="977.8" y2="224.6" stroke="#151515" stroke-width="1.0"/>
<text transform="translate(800,226.2) skewX(-24)" font-size="12" textLength="28.66" lengthAdjust="spacingAndGlyphs" font-weight="normal" stroke="#151515" stroke-width="0.4" fill="#151515">5780</text>
<text transform="translate(980,225.9) skewX(-24)" font-size="10" textLength="14.58" lengthAdjust="spacingAndGlyphs" font-weight="normal" stroke="#151515" stroke-width="0.4" fill="#151515">100</text>
<line x1="616.7" y1="250.3" x2="983.6" y2="250.3" stroke="#151515" stroke-width="0.9"/>
<line x1="621.3000000000001" y1="253.10000000000002" x2="626.9" y2="247.5" stroke="#151515" stroke-width="1.0"/>
<line x1="972.2" y1="253.10000000000002" x2="977.8" y2="247.5" stroke="#151515" stroke-width="1.0"/>
<g transform="translate(792.6,248)" fill="none" stroke="#151515" stroke-width="1.2" stroke-linecap="round" stroke-linejoin="round"><path d="M0,1 L0,0 L1,0" transform="matrix(5.470,0,4.430,-9.500,0.000,0)" vector-effect="non-scaling-stroke"/></g>
<g transform="translate(585,70)" fill="none" stroke="#151515" stroke-width="1.5" stroke-linecap="round" stroke-linejoin="round"><path d="M0.08,0.88 C0.3,1.06 0.95,1.05 0.9,0.74 C0.87,0.55 0.5,0.53 0.4,0.53 C0.9,0.52 1.0,0.3 0.9,0.15 C0.75,-0.06 0.2,-0.03 0,0.18" transform="matrix(7.409,0,3.591,-13.400,0.000,0)" vector-effect="non-scaling-stroke"/></g>
<line x1="603" y1="46.7" x2="603" y2="76.8" stroke="#151515" stroke-width="1.0"/>
<polygon points="603,58.8 601.3,60.8 601.3,67.725 602.0,71.02499999999999 602.5,76.8 603.5,76.8 604.0,71.02499999999999 604.7,67.725 604.7,60.8" fill="#151515"/>
<line x1="593" y1="76.8" x2="619" y2="76.8" stroke="#151515" stroke-width="1.5"/>
<g transform="translate(586.7,112)" fill="none" stroke="#151515" stroke-width="1.5" stroke-linecap="round" stroke-linejoin="round"><path d="M0.45,1 L0,0.3 L1,0.3 M0.75,0.62 L0.75,0" transform="matrix(6.685,0,3.215,-12.000,0.000,0)" vector-effect="non-scaling-stroke"/></g>
<line x1="603" y1="87.3" x2="603" y2="115.6" stroke="#151515" stroke-width="1.0"/>
<polygon points="603,97.6 601.3,99.6 601.3,106.52499999999999 602.0,109.82499999999999 602.5,115.6 603.5,115.6 604.0,109.82499999999999 604.7,106.52499999999999 604.7,99.6" fill="#151515"/>
<line x1="592" y1="115.6" x2="620.4" y2="115.6" stroke="#151515" stroke-width="1.5"/>
<line x1="979" y1="28.9" x2="979" y2="49.4" stroke="#151515" stroke-width="2.3"/>
<line x1="979.5" y1="36.4" x2="1009.5" y2="36.4" stroke="#151515" stroke-width="1.0"/>
<polygon points="979.5,35.8 987.2,35.5 989.02,34.9 993.0,34.9 995.0,36.4 993.0,37.9 989.02,37.9 987.2,37.3 979.5,37.0" fill="#151515"/>
<g transform="translate(994.3,33.6)" fill="none" stroke="#151515" stroke-width="1.5" stroke-linecap="round" stroke-linejoin="round"><path d="M0.0,0.62 L0.55,1 L0.55,0" transform="matrix(2.506,0,9.994,-11.100,0.000,0)" vector-effect="non-scaling-stroke"/></g>
<line x1="991.3" y1="48.6" x2="991.3" y2="76.6" stroke="#151515" stroke-width="1.0"/>
<polygon points="991.3,58.599999999999994 989.5999999999999,60.599999999999994 989.5999999999999,67.52499999999999 990.3,70.82499999999999 990.8,76.6 991.8,76.6 992.3,70.82499999999999 993.0,67.52499999999999 993.0,60.599999999999994" fill="#151515"/>
<line x1="976.3" y1="76.6" x2="1003" y2="76.6" stroke="#151515" stroke-width="1.5"/>
<g transform="translate(997,73)" fill="none" stroke="#151515" stroke-width="1.5" stroke-linecap="round" stroke-linejoin="round"><path d="M0.08,0.88 C0.3,1.06 0.95,1.05 0.9,0.74 C0.87,0.55 0.5,0.53 0.4,0.53 C0.9,0.52 1.0,0.3 0.9,0.15 C0.75,-0.06 0.2,-0.03 0,0.18" transform="matrix(9.597,0,3.403,-12.700,0.000,0)" vector-effect="non-scaling-stroke"/></g>
<line x1="991.3" y1="91.2" x2="991.3" y2="116.7" stroke="#151515" stroke-width="1.0"/>
<polygon points="991.3,98.7 989.5999999999999,100.7 989.5999999999999,107.625 990.3,110.925 990.8,116.7 991.8,116.7 992.3,110.925 993.0,107.625 993.0,100.7" fill="#151515"/>
<line x1="977.5" y1="116.7" x2="1004.2" y2="116.7" stroke="#151515" stroke-width="1.5"/>
<g transform="translate(995.7,110.6)" fill="none" stroke="#151515" stroke-width="1.5" stroke-linecap="round" stroke-linejoin="round"><path d="M0.45,1 L0,0.3 L1,0.3 M0.75,0.62 L0.75,0" transform="matrix(7.758,0,3.242,-12.100,0.000,0)" vector-effect="non-scaling-stroke"/></g>
<line x1="979.9" y1="169.7" x2="979.9" y2="192.1" stroke="#151515" stroke-width="2.4"/>
<line x1="980.5" y1="184.3" x2="1010.7" y2="184.3" stroke="#151515" stroke-width="1.0"/>
<polygon points="980.5,183.70000000000002 991.5,183.4 994.1,182.60000000000002 1000.0,182.60000000000002 1002.0,184.3 1000.0,186.0 994.1,186.0 991.5,185.20000000000002 980.5,184.9" fill="#151515"/>
<g transform="translate(985.5,197.9)" fill="none" stroke="#151515" stroke-width="1.5" stroke-linecap="round" stroke-linejoin="round"><path d="M0.0,0.62 L0.55,1 L0.55,0" transform="matrix(2.698,0,11.202,-11.600,0.000,0)" vector-effect="non-scaling-stroke"/></g>
<line x1="975" y1="83.2" x2="1037" y2="83.2" stroke="#151515" stroke-width="0.9"/>
<line x1="975" y1="165" x2="1035.8" y2="165" stroke="#151515" stroke-width="0.9"/>
<line x1="1026.6" y1="76.6" x2="1026.6" y2="170" stroke="#151515" stroke-width="0.9"/>
<line x1="1023.8" y1="86.0" x2="1029.3999999999999" y2="80.4" stroke="#151515" stroke-width="1.0"/>
<line x1="1023.8" y1="167.8" x2="1029.3999999999999" y2="162.2" stroke="#151515" stroke-width="1.0"/>
<g transform="translate(1025.5,131) rotate(-90)" fill="none" stroke="#151515" stroke-width="1.2" stroke-linecap="round"><path d="M0,0 L0,1 M1,0 L1,1 M0,0.5 L1,0.5" transform="matrix(5.8,0,10.817,-11.6,0,0)" vector-effect="non-scaling-stroke"/></g>
<g transform="translate(197.2,336)" fill="none" stroke="#151515" stroke-width="1.7" stroke-linecap="round" stroke-linejoin="round"><path d="M0.05,0.78 C0.1,1.05 0.95,1.1 0.95,0.72 C0.95,0.45 0.2,0.3 0,0 L1,0" transform="matrix(8.809,0,4.368,-12.000,0.000,0)" vector-effect="non-scaling-stroke"/><path d="M0,0.42 L1,0.42" transform="matrix(6.606,0,4.368,-12.000,13.213,0)" vector-effect="non-scaling-stroke"/><path d="M0.05,0.78 C0.1,1.05 0.95,1.1 0.95,0.72 C0.95,0.45 0.2,0.3 0,0 L1,0" transform="matrix(8.809,0,4.368,-12.000,24.224,0)" vector-effect="non-scaling-stroke"/></g>
<line x1="188.3" y1="338.3" x2="236" y2="338.3" stroke="#151515" stroke-width="1.5"/>
<rect x="57.5" y="384.3" width="346" height="8" fill="url(#xh)" stroke="none"/>
<line x1="58" y1="379.1" x2="403.5" y2="379.1" stroke="#151515" stroke-width="1.6"/>
<line x1="57.4" y1="384.3" x2="403.5" y2="384.3" stroke="#151515" stroke-width="1.7"/>
<line x1="57.4" y1="392.3" x2="403.5" y2="392.3" stroke="#151515" stroke-width="1.7"/>
<line x1="55" y1="403" x2="406.2" y2="403" stroke="#151515" stroke-width="1.7"/>
<polyline points="57.9,379 57.9,396 55.2,396 55.2,403" fill="none" stroke="#151515" stroke-width="1.4" stroke-linejoin="round"/>
<polyline points="403.4,379 403.4,397.5 406.1,397.5 406.1,403" fill="none" stroke="#151515" stroke-width="1.4" stroke-linejoin="round"/>
<circle cx="66" cy="392" r="20.8" fill="none" stroke="#151515" stroke-width="1.1"/>
<line x1="37.2" y1="342.5" x2="34" y2="358" stroke="#151515" stroke-width="1.6"/>
<line x1="42" y1="342.5" x2="38.8" y2="358" stroke="#151515" stroke-width="1.6"/>
<line x1="32.5" y1="342.3" x2="46" y2="342.3" stroke="#151515" stroke-width="1.3"/>
<line x1="29.5" y1="358.3" x2="42.5" y2="358.3" stroke="#151515" stroke-width="1.3"/>
<polyline points="25.4,360.4 53.8,360.4 59.8,371.8" fill="none" stroke="#151515" stroke-width="1.0" stroke-linejoin="round"/>
<g transform="translate(76.2,352.4)" fill="none" stroke="#151515" stroke-width="1.35" stroke-linecap="round" stroke-linejoin="round"><path d="M0,0 L0,1 L1,1 L1,0" transform="matrix(5.375,0,8.125,-10.400,0.000,0)" vector-effect="non-scaling-stroke"/></g>
<polyline points="68.7,353 97.1,353 110.6,398.7" fill="none" stroke="#151515" stroke-width="1.0" stroke-linejoin="round"/>
<polyline points="119.5,395.7 131.5,362 305,362 319.1,394.2" fill="none" stroke="#151515" stroke-width="1.0" stroke-linejoin="round"/>
<line x1="198.7" y1="362" x2="186.8" y2="394.2" stroke="#151515" stroke-width="1.0"/>
<line x1="264.1" y1="362" x2="253.4" y2="395" stroke="#151515" stroke-width="1.0"/>
<g transform="translate(238.5,359.3)" fill="none" stroke="#151515" stroke-width="1.6" stroke-linecap="round" stroke-linejoin="round"><path d="M0,0 L0,1 L0.5,0.3 L1,1 L1,0" transform="matrix(8.448,0,6.429,-9.900,0.000,0)" vector-effect="non-scaling-stroke"/><path d="M0.45,1 L0,0.3 L1,0.3 M0.75,0.62 L0.75,0" transform="matrix(6.758,0,6.429,-9.900,10.813,0)" vector-effect="non-scaling-stroke"/></g>
<path d="M118.3,402.6 V396.2 Q118.3,393.7 120.85,393.7 Q123.4,393.7 123.4,396.2 V402.6" fill="#999" stroke="#151515" stroke-width="1.7"/>
<line x1="120.85" y1="396.2" x2="120.85" y2="402.6" stroke="#151515" stroke-width="1.0"/>
<path d="M185.29999999999998,402.6 V396.2 Q185.29999999999998,393.7 188.0,393.7 Q190.70000000000002,393.7 190.70000000000002,396.2 V402.6" fill="#999" stroke="#151515" stroke-width="1.7"/>
<line x1="188.0" y1="396.2" x2="188.0" y2="402.6" stroke="#151515" stroke-width="1.0"/>
<path d="M250.4,402.6 V396.2 Q250.4,393.7 252.9,393.7 Q255.4,393.7 255.4,396.2 V402.6" fill="#999" stroke="#151515" stroke-width="1.7"/>
<line x1="252.9" y1="396.2" x2="252.9" y2="402.6" stroke="#151515" stroke-width="1.0"/>
<path d="M317.6,402.6 V396.2 Q317.6,393.7 320.0,393.7 Q322.4,393.7 322.4,396.2 V402.6" fill="#999" stroke="#151515" stroke-width="1.7"/>
<line x1="320.0" y1="396.2" x2="320.0" y2="402.6" stroke="#151515" stroke-width="1.0"/>
<rect x="108.5" y="392.4" width="5.9" height="10.2" fill="none" stroke="#151515" stroke-width="1.1"/>
<line x1="108.5" y1="397.5" x2="114.4" y2="397.5" stroke="#151515" stroke-width="0.9"/>
<rect x="343.9" y="393.3" width="9.0" height="9.3" fill="none" stroke="#151515" stroke-width="1.1"/>
<line x1="346.5" y1="393.3" x2="346.5" y2="398" stroke="#151515" stroke-width="0.9"/>
<line x1="343.9" y1="398" x2="352.9" y2="398" stroke="#151515" stroke-width="0.9"/>
<rect x="63.5" y="396.2" width="13.9" height="6.4" fill="none" stroke="#151515" stroke-width="1.1"/>
<line x1="66" y1="399" x2="75" y2="399" stroke="#151515" stroke-width="0.8" stroke-dasharray="3 2"/>
<rect x="364.3" y="396" width="13.9" height="5.4" fill="none" stroke="#151515" stroke-width="1.3"/>
<line x1="366" y1="398.6" x2="377" y2="398.6" stroke="#151515" stroke-width="0.8" stroke-dasharray="3 2"/>
<g transform="translate(16.4,424)" fill="none" stroke="#151515" stroke-width="1.5" stroke-linecap="round" stroke-linejoin="round"><path d="M0,0 L0,1 L0.5,0.3 L1,1 L1,0" transform="matrix(8.194,0,6.004,-10.400,0.000,0)" vector-effect="non-scaling-stroke"/><path d="M0.0,0.62 L0.55,1 L0.55,0" transform="matrix(4.507,0,6.004,-10.400,10.489,0)" vector-effect="non-scaling-stroke"/></g>
<polyline points="9,425.6 46.3,425.6 64.3,401.7" fill="none" stroke="#151515" stroke-width="1.0" stroke-linejoin="round"/>
<g transform="translate(408.4,423.3)" fill="none" stroke="#151515" stroke-width="1.5" stroke-linecap="round" stroke-linejoin="round"><path d="M0,0 L0,1 L0.5,0.3 L1,1 L1,0" transform="matrix(9.436,0,5.831,-10.100,0.000,0)" vector-effect="non-scaling-stroke"/><path d="M0.0,0.62 L0.55,1 L0.55,0" transform="matrix(5.190,0,5.831,-10.100,12.079,0)" vector-effect="non-scaling-stroke"/></g>
<polyline points="430.6,425 390.6,425 378.2,401.4" fill="none" stroke="#151515" stroke-width="1.0" stroke-linejoin="round"/>
<circle cx="346.2" cy="393.6" r="16.3" fill="none" stroke="#151515" stroke-width="1.0"/>
<line x1="346" y1="417" x2="343.8" y2="430" stroke="#151515" stroke-width="1.5"/>
<line x1="349.8" y1="417" x2="347.6" y2="430" stroke="#151515" stroke-width="1.5"/>
<line x1="353.6" y1="417" x2="351.40000000000003" y2="430" stroke="#151515" stroke-width="1.5"/>
<line x1="342.5" y1="416.8" x2="357" y2="416.8" stroke="#151515" stroke-width="1.3"/>
<line x1="340.5" y1="430.2" x2="354.5" y2="430.2" stroke="#151515" stroke-width="1.3"/>
<polyline points="366.3,433 332.9,433 337.9,407.6" fill="none" stroke="#151515" stroke-width="1.0" stroke-linejoin="round"/>
<g transform="translate(382.8,351.5)" fill="none" stroke="#151515" stroke-width="1.35" stroke-linecap="round" stroke-linejoin="round"><path d="M0,0 L0,1 L1,1 L1,0" transform="matrix(6.931,0,7.969,-10.200,0.000,0)" vector-effect="non-scaling-stroke"/></g>
<polyline points="406.7,352.4 370.8,352.4 348.4,395.7" fill="none" stroke="#151515" stroke-width="1.0" stroke-linejoin="round"/>
<line x1="403.4" y1="378.9" x2="468" y2="378.9" stroke="#151515" stroke-width="0.9"/>
<line x1="406" y1="402" x2="468" y2="402" stroke="#151515" stroke-width="0.9"/>
<line x1="460.4" y1="374.4" x2="460.4" y2="406" stroke="#151515" stroke-width="0.9"/>
<line x1="457.79999999999995" y1="381.5" x2="463.0" y2="376.29999999999995" stroke="#151515" stroke-width="1.0"/>
<line x1="457.79999999999995" y1="404.6" x2="463.0" y2="399.4" stroke="#151515" stroke-width="1.0"/>
<ellipse cx="451" cy="390" rx="2.4" ry="6" transform="rotate(-38 451 390)" fill="none" stroke="#151515" stroke-width="1.7"/>
<line x1="55.9" y1="403" x2="55.9" y2="493.7" stroke="#151515" stroke-width="0.9"/>
<line x1="62.8" y1="403" x2="62.8" y2="467.4" stroke="#151515" stroke-width="0.9"/>
<line x1="120.1" y1="403" x2="120.1" y2="451" stroke="#151515" stroke-width="0.9"/>
<line x1="187.4" y1="403" x2="187.4" y2="451" stroke="#151515" stroke-width="0.9"/>
<line x1="252.8" y1="403" x2="252.8" y2="450" stroke="#151515" stroke-width="0.9"/>
<line x1="320.4" y1="403" x2="320.4" y2="450" stroke="#151515" stroke-width="0.9"/>
<line x1="378.5" y1="403" x2="378.5" y2="471.9" stroke="#151515" stroke-width="0.9"/>
<line x1="406" y1="403" x2="406" y2="493.7" stroke="#151515" stroke-width="1.3"/>
<line x1="50.8" y1="443.5" x2="329.9" y2="443.5" stroke="#151515" stroke-width="0.9"/>
<line x1="53.1" y1="446.3" x2="58.699999999999996" y2="440.7" stroke="#151515" stroke-width="1.0"/>
<line x1="60.0" y1="446.3" x2="65.6" y2="440.7" stroke="#151515" stroke-width="1.0"/>
<line x1="117.3" y1="446.3" x2="122.89999999999999" y2="440.7" stroke="#151515" stroke-width="1.0"/>
<line x1="184.6" y1="446.3" x2="190.20000000000002" y2="440.7" stroke="#151515" stroke-width="1.0"/>
<line x1="250.0" y1="446.3" x2="255.60000000000002" y2="440.7" stroke="#151515" stroke-width="1.0"/>
<line x1="317.59999999999997" y1="446.3" x2="323.2" y2="440.7" stroke="#151515" stroke-width="1.0"/>
<text transform="translate(78.3,442) skewX(-24)" font-size="11.5" textLength="20.42" lengthAdjust="spacingAndGlyphs" font-weight="normal" stroke="#151515" stroke-width="0.4" fill="#151515">1190</text>
<text transform="translate(140.5,442) skewX(-24)" font-size="11.5" textLength="22.02" lengthAdjust="spacingAndGlyphs" font-weight="normal" stroke="#151515" stroke-width="0.4" fill="#151515">1200</text>
<text transform="translate(204.7,442) skewX(-24)" font-size="11.5" textLength="22.82" lengthAdjust="spacingAndGlyphs" font-weight="normal" stroke="#151515" stroke-width="0.4" fill="#151515">1200</text>
<text transform="translate(278.2,441.5) skewX(-24)" font-size="11.5" textLength="24.12" lengthAdjust="spacingAndGlyphs" font-weight="normal" stroke="#151515" stroke-width="0.4" fill="#151515">1200</text>
<line x1="50" y1="462.3" x2="387.2" y2="462.3" stroke="#151515" stroke-width="0.9"/>
<line x1="53.1" y1="465.1" x2="58.699999999999996" y2="459.5" stroke="#151515" stroke-width="1.0"/>
<line x1="60.0" y1="465.1" x2="65.6" y2="459.5" stroke="#151515" stroke-width="1.0"/>
<line x1="375.7" y1="465.1" x2="381.3" y2="459.5" stroke="#151515" stroke-width="1.0"/>
<text transform="translate(35.9,461.4) skewX(-24)" font-size="10.5" textLength="15.23" lengthAdjust="spacingAndGlyphs" font-weight="normal" stroke="#151515" stroke-width="0.4" fill="#151515">100</text>
<text transform="translate(207.8,461.4) skewX(-24)" font-size="11.5" textLength="28.62" lengthAdjust="spacingAndGlyphs" font-weight="normal" stroke="#151515" stroke-width="0.4" fill="#151515">5780</text>
<line x1="50" y1="483" x2="412.7" y2="483" stroke="#151515" stroke-width="0.9"/>
<line x1="53.1" y1="485.8" x2="58.699999999999996" y2="480.2" stroke="#151515" stroke-width="1.0"/>
<line x1="403.09999999999997" y1="485.8" x2="408.7" y2="480.2" stroke="#151515" stroke-width="1.0"/>
<g transform="translate(219,480.9)" fill="none" stroke="#151515" stroke-width="1.2" stroke-linecap="round" stroke-linejoin="round"><path d="M0,1 L0,0 L1,0" transform="matrix(6.104,0,4.896,-10.500,0.000,0)" vector-effect="non-scaling-stroke"/></g>
<line x1="267.7" y1="377.8" x2="267.7" y2="605.4" stroke="#151515" stroke-width="1.2"/>
<g transform="translate(799.2,334.4)" fill="none" stroke="#151515" stroke-width="1.7" stroke-linecap="round" stroke-linejoin="round"><path d="M0.08,0.88 C0.3,1.06 0.95,1.05 0.9,0.74 C0.87,0.55 0.5,0.53 0.4,0.53 C0.9,0.52 1.0,0.3 0.9,0.15 C0.75,-0.06 0.2,-0.03 0,0.18" transform="matrix(9.618,0,4.331,-11.900,0.000,0)" vector-effect="non-scaling-stroke"/><path d="M0,0.42 L1,0.42" transform="matrix(7.214,0,4.331,-11.900,14.428,0)" vector-effect="non-scaling-stroke"/><path d="M0.08,0.88 C0.3,1.06 0.95,1.05 0.9,0.74 C0.87,0.55 0.5,0.53 0.4,0.53 C0.9,0.52 1.0,0.3 0.9,0.15 C0.75,-0.06 0.2,-0.03 0,0.18" transform="matrix(9.618,0,4.331,-11.900,26.450,0)" vector-effect="non-scaling-stroke"/></g>
<line x1="788.7" y1="336.8" x2="843.4" y2="336.8" stroke="#151515" stroke-width="1.5"/>
<rect x="625.3" y="385" width="348.7" height="8.2" fill="url(#xh2)" stroke="none"/>
<line x1="625.3" y1="379.3" x2="974" y2="379.3" stroke="#151515" stroke-width="1.6"/>
<line x1="625.3" y1="385" x2="974" y2="385" stroke="#151515" stroke-width="1.7"/>
<line x1="625.3" y1="393.2" x2="974" y2="393.2" stroke="#151515" stroke-width="1.7"/>
<line x1="622.9" y1="402.3" x2="976.3" y2="402.3" stroke="#151515" stroke-width="1.7"/>
<polyline points="625.4,379.3 625.4,394 623,394 623,402.3" fill="none" stroke="#151515" stroke-width="1.4" stroke-linejoin="round"/>
<polyline points="974,379.3 974,396 976.2,396 976.2,402.3" fill="none" stroke="#151515" stroke-width="1.4" stroke-linejoin="round"/>
<rect x="646.2" y="395.7" width="14.0" height="6.0" fill="none" stroke="#151515" stroke-width="1.3"/>
<line x1="648" y1="398.5" x2="659" y2="398.5" stroke="#151515" stroke-width="0.8" stroke-dasharray="3 2"/>
<rect x="954.8" y="395.7" width="14.0" height="6.0" fill="none" stroke="#151515" stroke-width="1.3"/>
<line x1="956" y1="398.5" x2="967" y2="398.5" stroke="#151515" stroke-width="0.8" stroke-dasharray="3 2"/>
<g transform="translate(605,423.2)" fill="none" stroke="#151515" stroke-width="1.5" stroke-linecap="round" stroke-linejoin="round"><path d="M0,0 L0,1 L0.5,0.3 L1,1 L1,0" transform="matrix(7.572,0,5.543,-9.600,0.000,0)" vector-effect="non-scaling-stroke"/><path d="M0.0,0.62 L0.55,1 L0.55,0" transform="matrix(4.165,0,5.543,-9.600,9.693,0)" vector-effect="non-scaling-stroke"/></g>
<polyline points="598.4,425 634.8,425 646.2,403.2" fill="none" stroke="#151515" stroke-width="1.0" stroke-linejoin="round"/>
<g transform="translate(988.3,422.6)" fill="none" stroke="#151515" stroke-width="1.5" stroke-linecap="round" stroke-linejoin="round"><path d="M0,0 L0,1 L0.5,0.3 L1,1 L1,0" transform="matrix(8.392,0,5.543,-9.600,0.000,0)" vector-effect="non-scaling-stroke"/><path d="M0.0,0.62 L0.55,1 L0.55,0" transform="matrix(4.616,0,5.543,-9.600,10.742,0)" vector-effect="non-scaling-stroke"/></g>
<polyline points="1018.2,424.7 982.3,424.7 965.9,400.2" fill="none" stroke="#151515" stroke-width="1.0" stroke-linejoin="round"/>
<g transform="translate(651.3,351.5)" fill="none" stroke="#151515" stroke-width="1.35" stroke-linecap="round" stroke-linejoin="round"><path d="M0,0 L0,1 L1,1 L1,0" transform="matrix(5.431,0,7.969,-10.200,0.000,0)" vector-effect="non-scaling-stroke"/></g>
<polyline points="639.3,352.4 671.3,352.4 681.2,395" fill="none" stroke="#151515" stroke-width="1.0" stroke-linejoin="round"/>
<g transform="translate(948,352.4)" fill="none" stroke="#151515" stroke-width="1.35" stroke-linecap="round" stroke-linejoin="round"><path d="M0,0 L0,1 L1,1 L1,0" transform="matrix(5.275,0,8.125,-10.400,0.000,0)" vector-effect="non-scaling-stroke"/></g>
<polyline points="970.3,353.3 934.5,353.3 919.5,393.3" fill="none" stroke="#151515" stroke-width="1.0" stroke-linejoin="round"/>
<rect x="679" y="393.3" width="6.6" height="9.0" fill="none" stroke="#151515" stroke-width="1.1"/>
<line x1="679" y1="398" x2="685.6" y2="398" stroke="#151515" stroke-width="0.9"/>
<rect x="915" y="391.5" width="6" height="10.8" fill="none" stroke="#151515" stroke-width="1.1"/>
<line x1="915" y1="397" x2="921" y2="397" stroke="#151515" stroke-width="0.9"/>
<path d="M707.2,402.3 V396.2 Q707.2,393.7 709.55,393.7 Q711.9,393.7 711.9,396.2 V402.3" fill="#999" stroke="#151515" stroke-width="1.7"/>
<line x1="709.55" y1="396.2" x2="709.55" y2="402.3" stroke="#151515" stroke-width="1.0"/>
<path d="M771.4,402.3 V396.2 Q771.4,393.7 774.25,393.7 Q777.1,393.7 777.1,396.2 V402.3" fill="#999" stroke="#151515" stroke-width="1.7"/>
<line x1="774.25" y1="396.2" x2="774.25" y2="402.3" stroke="#151515" stroke-width="1.0"/>
<path d="M836.4,402.3 V396.2 Q836.4,393.7 839.15,393.7 Q841.9,393.7 841.9,396.2 V402.3" fill="#999" stroke="#151515" stroke-width="1.7"/>
<line x1="839.15" y1="396.2" x2="839.15" y2="402.3" stroke="#151515" stroke-width="1.0"/>
<path d="M902.8000000000001,402.3 V396.2 Q902.8000000000001,393.7 906.1,393.7 Q909.4,393.7 909.4,396.2 V402.3" fill="#999" stroke="#151515" stroke-width="1.7"/>
<line x1="906.1" y1="396.2" x2="906.1" y2="402.3" stroke="#151515" stroke-width="1.0"/>
<polyline points="709.5,394.2 720,361.5 895,361.5 905.2,394.2" fill="none" stroke="#151515" stroke-width="1.0" stroke-linejoin="round"/>
<line x1="787.3" y1="361.5" x2="773.8" y2="394.2" stroke="#151515" stroke-width="1.0"/>
<line x1="852.3" y1="361.5" x2="839.4" y2="394.2" stroke="#151515" stroke-width="1.0"/>
<g transform="translate(840,358.3)" fill="none" stroke="#151515" stroke-width="1.6" stroke-linecap="round" stroke-linejoin="round"><path d="M0,0 L0,1 L0.5,0.3 L1,1 L1,0" transform="matrix(8.532,0,6.754,-10.400,0.000,0)" vector-effect="non-scaling-stroke"/><path d="M0.45,1 L0,0.3 L1,0.3 M0.75,0.62 L0.75,0" transform="matrix(6.825,0,6.754,-10.400,10.921,0)" vector-effect="non-scaling-stroke"/></g>
<line x1="728.4" y1="379.3" x2="728.4" y2="605.4" stroke="#151515" stroke-width="1.2"/>
<line x1="623.8" y1="402.3" x2="623.8" y2="494.3" stroke="#151515" stroke-width="0.9"/>
<line x1="646.2" y1="402.3" x2="646.2" y2="471" stroke="#151515" stroke-width="0.9"/>
<line x1="709.5" y1="402.3" x2="709.5" y2="451" stroke="#151515" stroke-width="0.9"/>
<line x1="773.8" y1="402.3" x2="773.8" y2="451" stroke="#151515" stroke-width="0.9"/>
<line x1="839.6" y1="402.3" x2="839.6" y2="451" stroke="#151515" stroke-width="0.9"/>
<line x1="906.1" y1="402.3" x2="906.1" y2="451" stroke="#151515" stroke-width="0.9"/>
<line x1="975.9" y1="402.3" x2="975.9" y2="492.8" stroke="#151515" stroke-width="0.9"/>
<line x1="968.8" y1="402.3" x2="968.8" y2="470.4" stroke="#777" stroke-width="1.0" stroke-dasharray="12 2.5"/>
<line x1="702" y1="441.7" x2="983.8" y2="441.7" stroke="#151515" stroke-width="0.9"/>
<line x1="706.7" y1="444.5" x2="712.3" y2="438.9" stroke="#151515" stroke-width="1.0"/>
<line x1="771.0" y1="444.5" x2="776.5999999999999" y2="438.9" stroke="#151515" stroke-width="1.0"/>
<line x1="836.8000000000001" y1="444.5" x2="842.4" y2="438.9" stroke="#151515" stroke-width="1.0"/>
<line x1="903.3000000000001" y1="444.5" x2="908.9" y2="438.9" stroke="#151515" stroke-width="1.0"/>
<line x1="966.0" y1="444.5" x2="971.5999999999999" y2="438.9" stroke="#151515" stroke-width="1.0"/>
<line x1="972.9000000000001" y1="444.5" x2="978.5" y2="438.9" stroke="#151515" stroke-width="1.0"/>
<text transform="translate(736.4,440) skewX(-24)" font-size="11.5" textLength="25.62" lengthAdjust="spacingAndGlyphs" font-weight="normal" stroke="#151515" stroke-width="0.4" fill="#151515">1200</text>
<text transform="translate(796.2,440) skewX(-24)" font-size="11.5" textLength="24.12" lengthAdjust="spacingAndGlyphs" font-weight="normal" stroke="#151515" stroke-width="0.4" fill="#151515">1200</text>
<text transform="translate(856.8,440) skewX(-24)" font-size="11.5" textLength="25.62" lengthAdjust="spacingAndGlyphs" font-weight="normal" stroke="#151515" stroke-width="0.4" fill="#151515">1200</text>
<text transform="translate(928.5,440) skewX(-24)" font-size="11.5" textLength="25.62" lengthAdjust="spacingAndGlyphs" font-weight="normal" stroke="#151515" stroke-width="0.4" fill="#151515">1190</text>
<line x1="640.2" y1="462.3" x2="980" y2="462.3" stroke="#151515" stroke-width="0.9"/>
<line x1="643.4000000000001" y1="465.1" x2="649.0" y2="459.5" stroke="#151515" stroke-width="1.0"/>
<line x1="966.0" y1="465.1" x2="971.5999999999999" y2="459.5" stroke="#151515" stroke-width="1.0"/>
<line x1="972.9000000000001" y1="465.1" x2="978.5" y2="459.5" stroke="#151515" stroke-width="1.0"/>
<text transform="translate(793.2,461.4) skewX(-24)" font-size="11.5" textLength="28.62" lengthAdjust="spacingAndGlyphs" font-weight="normal" stroke="#151515" stroke-width="0.4" fill="#151515">5780</text>
<text transform="translate(980.8,462) skewX(-24)" font-size="10.5" textLength="18.23" lengthAdjust="spacingAndGlyphs" font-weight="normal" stroke="#151515" stroke-width="0.4" fill="#151515">100</text>
<line x1="616.9" y1="483.5" x2="980" y2="483.5" stroke="#151515" stroke-width="0.9"/>
<line x1="621.0" y1="486.3" x2="626.5999999999999" y2="480.7" stroke="#151515" stroke-width="1.0"/>
<line x1="972.9000000000001" y1="486.3" x2="978.5" y2="480.7" stroke="#151515" stroke-width="1.0"/>
<g transform="translate(793.2,482.4)" fill="none" stroke="#151515" stroke-width="1.2" stroke-linecap="round" stroke-linejoin="round"><path d="M0,1 L0,0 L1,0" transform="matrix(7.803,0,4.197,-9.000,0.000,0)" vector-effect="non-scaling-stroke"/></g>
<line x1="267.2" y1="522.3" x2="728.9" y2="522.3" stroke="#151515" stroke-width="1.2"/>
<line x1="267.2" y1="543.5" x2="728.9" y2="543.5" stroke="#151515" stroke-width="1.2"/>
<line x1="267.2" y1="564.5" x2="728.9" y2="564.5" stroke="#151515" stroke-width="1.2"/>
<line x1="267.2" y1="584.2" x2="728.9" y2="584.2" stroke="#151515" stroke-width="1.2"/>
<line x1="267.2" y1="605.2" x2="728.9" y2="605.2" stroke="#151515" stroke-width="1.2"/>
<text transform="translate(325.2,519) skewX(-16)" font-size="15.8" textLength="69.66" lengthAdjust="spacingAndGlyphs" font-weight="normal" stroke="#151515" stroke-width="0.5" fill="#151515">Цементно</text>
<text transform="translate(401.8,519) skewX(-16)" font-size="15.8" textLength="4.76" lengthAdjust="spacingAndGlyphs" font-weight="normal" stroke="#151515" stroke-width="0.5" fill="#151515">&#8211;</text>
<text transform="translate(413.6,519) skewX(-16)" font-size="15.8" textLength="72.36" lengthAdjust="spacingAndGlyphs" font-weight="normal" stroke="#151515" stroke-width="0.5" fill="#151515">песчаный</text>
<text transform="translate(499.8,519) skewX(-16)" font-size="15.8" textLength="66.26" lengthAdjust="spacingAndGlyphs" font-weight="normal" stroke="#151515" stroke-width="0.5" fill="#151515">раствор</text>
<text transform="translate(578,519) skewX(-16)" font-size="15.8" textLength="5.66" lengthAdjust="spacingAndGlyphs" font-weight="normal" stroke="#151515" stroke-width="0.5" fill="#151515">&#8211;</text>
<text transform="translate(590.7,519) skewX(-16)" font-size="15.8" textLength="18.36" lengthAdjust="spacingAndGlyphs" font-weight="normal" stroke="#151515" stroke-width="0.5" fill="#151515">20</text>
<text transform="translate(320.7,540.6) skewX(-16)" font-size="15.8" textLength="79.06" lengthAdjust="spacingAndGlyphs" font-weight="normal" stroke="#151515" stroke-width="0.5" fill="#151515">Наружный</text>
<text transform="translate(411.6,540.6) skewX(-16)" font-size="15.8" textLength="34.06" lengthAdjust="spacingAndGlyphs" font-weight="normal" stroke="#151515" stroke-width="0.5" fill="#151515">жел.</text>
<text transform="translate(457.8,540.6) skewX(-16)" font-size="15.8" textLength="30.16" lengthAdjust="spacingAndGlyphs" font-weight="normal" stroke="#151515" stroke-width="0.5" fill="#151515">бет.</text>
<text transform="translate(508.6,540.6) skewX(-16)" font-size="15.8" textLength="38.96" lengthAdjust="spacingAndGlyphs" font-weight="normal" stroke="#151515" stroke-width="0.5" fill="#151515">слой</text>
<text transform="translate(570.2,540.6) skewX(-16)" font-size="15.8" textLength="6.66" lengthAdjust="spacingAndGlyphs" font-weight="normal" stroke="#151515" stroke-width="0.5" fill="#151515">&#8211;</text>
<text transform="translate(584.8,540.6) skewX(-16)" font-size="15.8" textLength="17.46" lengthAdjust="spacingAndGlyphs" font-weight="normal" stroke="#151515" stroke-width="0.5" fill="#151515">30</text>
<text transform="translate(320.7,561.2) skewX(-16)" font-size="15.8" textLength="49.66" lengthAdjust="spacingAndGlyphs" font-weight="normal" stroke="#151515" stroke-width="0.5" fill="#151515">Бумага</text>
<text transform="translate(392,561.2) skewX(-16)" font-size="15.8" textLength="71.26" lengthAdjust="spacingAndGlyphs" font-weight="normal" stroke="#151515" stroke-width="0.5" fill="#151515">мешочная</text>
<text transform="translate(466.3,561.2) skewX(-16)" font-size="15.8" textLength="9.56" lengthAdjust="spacingAndGlyphs" font-weight="normal" stroke="#151515" stroke-width="0.5" fill="#151515">*</text>
<text transform="translate(321.3,581.6) skewX(-16)" font-size="15.8" textLength="105.76" lengthAdjust="spacingAndGlyphs" font-weight="normal" stroke="#151515" stroke-width="0.5" fill="#151515">Теплоизоляция</text>
<text transform="translate(317.8,602.2) skewX(-16)" font-size="15.8" textLength="81.96" lengthAdjust="spacingAndGlyphs" font-weight="normal" stroke="#151515" stroke-width="0.5" fill="#151515">Внутренний</text>
<text transform="translate(414.5,602.2) skewX(-16)" font-size="15.8" textLength="35.06" lengthAdjust="spacingAndGlyphs" font-weight="normal" stroke="#151515" stroke-width="0.5" fill="#151515">жел.</text>
<text transform="translate(457.8,602.2) skewX(-16)" font-size="15.8" textLength="33.06" lengthAdjust="spacingAndGlyphs" font-weight="normal" stroke="#151515" stroke-width="0.5" fill="#151515">бет.</text>
<text transform="translate(504.7,602.2) skewX(-16)" font-size="15.8" textLength="37.96" lengthAdjust="spacingAndGlyphs" font-weight="normal" stroke="#151515" stroke-width="0.5" fill="#151515">слой</text>
<text transform="translate(561.4,602.2) skewX(-16)" font-size="15.8" textLength="6.66" lengthAdjust="spacingAndGlyphs" font-weight="normal" stroke="#151515" stroke-width="0.5" fill="#151515">&#8211;</text>
<text transform="translate(570.2,602.2) skewX(-16)" font-size="15.8" textLength="24.26" lengthAdjust="spacingAndGlyphs" font-weight="normal" stroke="#151515" stroke-width="0.5" fill="#151515">100</text>
</svg>
</body></html>
